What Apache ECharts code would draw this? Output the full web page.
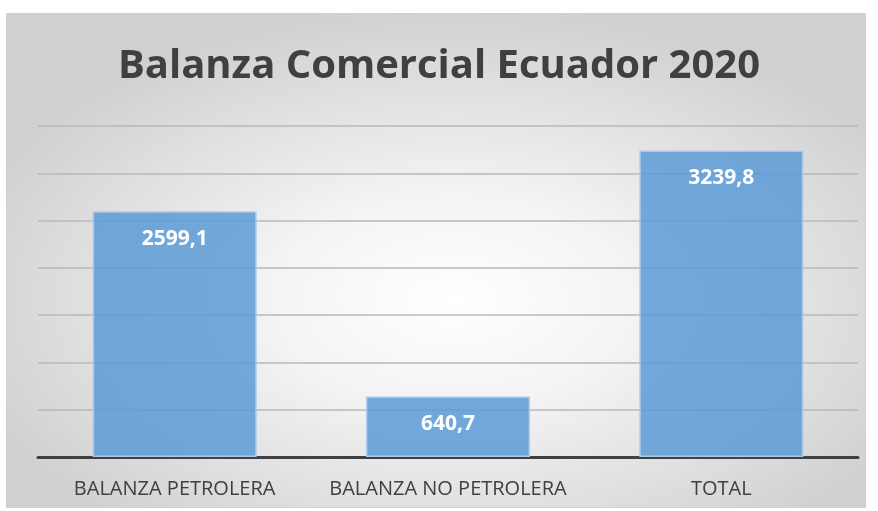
<!DOCTYPE html>
<html>
<head>
<meta charset="utf-8">
<script src="https://cdn.jsdelivr.net/npm/echarts@6/dist/echarts.min.js"></script>
<style>
  html, body { margin: 0; padding: 0; background: #fff; }
  #frame {
    position: absolute; left: 6px; top: 13px; width: 860px; height: 495px;
    border: 1px solid #d0d0d0; box-sizing: border-box;
    background: radial-gradient(ellipse 60% 60% at 52% 58%, #ffffff 0%, #f4f4f4 35%, #d0d0d0 100%);
  }
  #main { position: absolute; left: 0; top: 0; width: 878px; height: 511px; }
</style>
</head>
<body>
<div id="frame"></div>
<div id="main"></div>
<script>
// categories and values
const categories = ['BALANZA PETROLERA', 'BALANZA NO PETROLERA', 'TOTAL'];
const values = [2599.1, 640.7, 3239.8];

let myChart = echarts.init(document.getElementById('main'));
let option = {
  backgroundColor: 'transparent',
  title: {
    text: 'Balanza Comercial Ecuador 2020',
    left: 'center',
    top: 42,
    textStyle: {
      fontFamily: 'Open Sans',
      fontWeight: 'bold',
      fontSize: 40,
      color: '#404040'
    }
  },
  grid: {
    left: 38,
    right: 20,
    top: 126,
    bottom: 54
  },
  xAxis: {
    type: 'category',
    data: categories,
    axisTick: { show: false },
    axisLine: { lineStyle: { color: '#404040', width: 3 } },
    axisLabel: {
      interval: 0,
      hideOverlap: false,
      color: '#404040',
      fontFamily: 'Open Sans',
      fontSize: 20,
      margin: 22
    }
  },
  yAxis: {
    type: 'value',
    min: 0,
    max: 3500,
    interval: 500,
    axisLabel: { show: false },
    axisLine: { show: false },
    axisTick: { show: false },
    splitLine: { lineStyle: { color: '#b8b8b8', width: 1.5 } }
  },
  series: [
    {
      type: 'bar',
      data: values,
      barWidth: '60%',
      itemStyle: {
        color: 'rgba(91,155,213,0.85)',
        borderColor: '#a9c9ea',
        borderWidth: 1.5
      },
      label: {
        show: true,
        position: 'insideTop',
        distance: 17,
        color: '#ffffff',
        fontFamily: 'Open Sans',
        fontWeight: 'bold',
        fontSize: 21,
        formatter: function (p) {
          return p.value.toFixed(1).replace('.', ',');
        }
      }
    }
  ]
};
myChart.setOption(option);
</script>
</body>
</html>
